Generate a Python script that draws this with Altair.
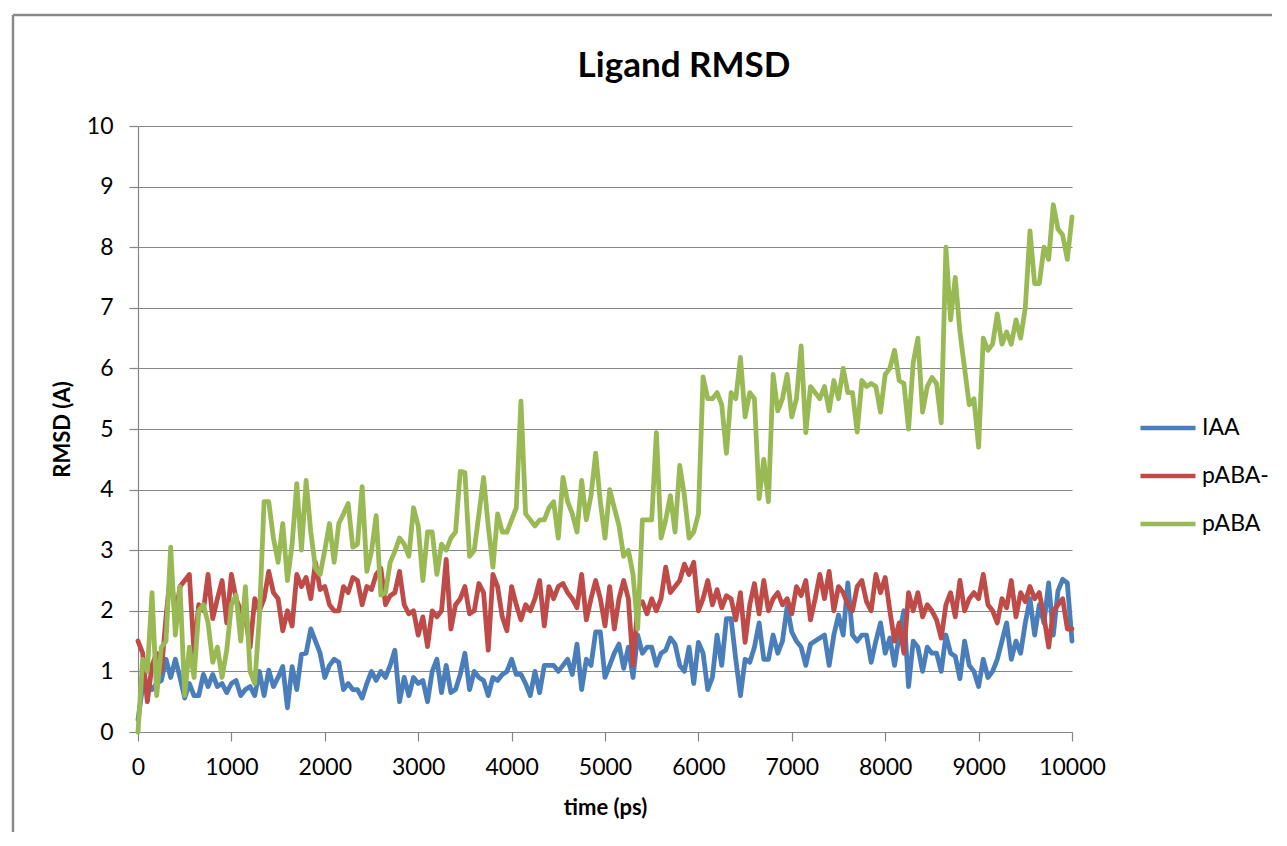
import altair as alt
import pandas as pd

# time grid (ps)
times = list(range(0, 10001, 50))

iaa = [
    0.2, 0.76, 0.8, 0.7, 0.8, 0.85, 1.2, 0.9, 1.2, 0.9,
    0.56, 0.8, 0.6, 0.6, 0.95, 0.75, 0.95, 0.75, 0.8, 0.65,
    0.8, 0.85, 0.6, 0.7, 0.75, 0.6, 1.0, 0.6, 1.02, 0.75,
    0.9, 1.08, 0.4, 1.08, 0.7, 1.28, 1.3, 1.7, 1.5, 1.3,
    0.9, 1.1, 1.2, 1.15, 0.7, 0.8, 0.7, 0.7, 0.56, 0.8,
    1.0, 0.85, 1.0, 0.9, 1.1, 1.35, 0.5, 0.9, 0.6, 0.9,
    0.8, 0.85, 0.5, 1.0, 1.2, 0.65, 1.1, 0.65, 0.7, 0.95,
    1.3, 0.7, 1.0, 0.9, 0.85, 0.6, 0.9, 0.85, 0.95, 1.0,
    1.2, 0.95, 0.95, 0.8, 0.6, 1.0, 0.65, 1.1, 1.1, 1.1,
    1.0, 1.1, 1.2, 0.95, 1.45, 0.7, 1.2, 1.1, 1.65, 1.65,
    0.9, 1.1, 1.3, 1.45, 1.05, 1.4, 0.9, 1.6, 1.3, 1.4,
    1.4, 1.1, 1.3, 1.35, 1.55, 1.45, 1.1, 1.0, 1.4, 0.8,
    1.48, 1.3, 0.7, 0.9, 1.6, 1.1, 1.87, 1.87, 1.2, 0.6,
    1.2, 1.15, 1.4, 1.8, 1.2, 1.2, 1.6, 1.3, 1.5, 2.07,
    1.65, 1.5, 1.4, 1.1, 1.45, 1.5, 1.55, 1.6, 1.1, 1.6,
    1.93, 1.6, 2.46, 1.6, 1.5, 1.6, 1.6, 1.15, 1.5, 1.8,
    1.3, 1.55, 1.1, 1.6, 2.0, 0.75, 1.5, 1.4, 1.0, 1.4,
    1.3, 1.3, 1.0, 1.6, 1.3, 1.25, 0.88, 1.5, 1.1, 1.0,
    0.75, 1.2, 0.9, 1.0, 1.2, 1.5, 1.8, 1.2, 1.5, 1.3,
    1.8, 2.2, 1.6, 2.1, 1.8, 2.46, 1.6, 2.33, 2.52, 2.46,
    1.5,
]

paba_minus = [
    1.5, 1.3, 0.5, 1.1, 1.3, 1.0, 1.9, 2.65, 1.9, 2.4,
    2.5, 2.6, 1.3, 2.1, 2.0, 2.6, 1.87, 2.2, 2.5, 1.8,
    2.6, 2.2, 2.0, 1.9, 1.4, 2.2, 2.0, 2.2, 2.65, 2.3,
    2.2, 1.67, 2.0, 1.75, 2.6, 2.4, 2.55, 2.2, 2.8, 2.35,
    2.4, 2.1, 2.0, 2.0, 2.4, 2.3, 2.55, 2.5, 2.1, 2.4,
    2.35, 2.6, 2.7, 2.1, 2.25, 2.3, 2.65, 2.1, 1.95, 2.0,
    1.6, 1.9, 1.41, 2.0, 1.9, 2.0, 2.85, 1.7, 2.1, 2.2,
    2.4, 1.95, 2.0, 2.45, 2.3, 1.35, 2.6, 2.4, 1.9, 1.67,
    2.4, 2.1, 1.85, 2.1, 2.0, 2.2, 2.5, 1.75, 2.4, 2.2,
    2.4, 2.45, 2.3, 2.2, 2.05, 2.6, 1.85, 2.2, 2.5, 2.2,
    1.75, 2.4, 1.7, 2.2, 2.5, 2.2, 1.1, 2.1, 2.15, 1.95,
    2.2, 2.0, 2.2, 2.72, 2.3, 2.4, 2.5, 2.77, 2.6, 2.8,
    2.0, 2.2, 2.5, 2.1, 2.35, 2.05, 2.25, 2.2, 1.85, 2.3,
    1.48, 2.1, 2.45, 1.95, 2.5, 2.0, 2.2, 2.3, 2.1, 2.2,
    1.95, 2.4, 2.25, 2.5, 1.85, 2.2, 2.6, 2.2, 2.65, 2.0,
    2.4, 2.3, 2.1, 2.0, 2.4, 2.5, 2.15, 2.0, 2.6, 2.3,
    2.55, 2.0, 1.5, 1.8, 1.3, 2.3, 2.0, 2.3, 1.9, 2.1,
    2.0, 1.85, 1.55, 2.1, 2.3, 1.9, 2.5, 2.0, 2.2, 2.3,
    2.2, 2.6, 2.1, 2.0, 1.8, 2.2, 2.05, 2.5, 1.9, 2.3,
    2.15, 2.4, 2.2, 2.3, 1.9, 1.4, 2.0, 2.1, 2.2, 1.7,
    1.7,
]

paba = [
    0.0, 1.2, 1.0, 2.3, 0.6, 1.4, 1.5, 3.05, 1.6, 2.4,
    0.6, 1.4, 0.9, 2.0, 2.1, 1.8, 1.15, 1.4, 0.9, 1.35,
    2.1, 2.26, 1.5, 2.4, 1.0, 0.8, 1.9, 3.8, 3.8, 3.2,
    2.8, 3.44, 2.5, 3.1, 4.1, 3.0, 4.15, 3.3, 2.7, 2.6,
    3.0, 3.44, 2.8, 3.44, 3.6, 3.77, 3.05, 3.1, 4.05, 2.65,
    2.98, 3.57, 2.26, 2.3, 2.8, 2.98, 3.2, 3.1, 2.9, 3.7,
    3.4, 2.5, 3.3, 3.3, 2.6, 3.1, 3.0, 3.2, 3.3, 4.3,
    4.28, 2.9, 3.0, 3.6, 4.2, 3.4, 2.72, 3.6, 3.3, 3.3,
    3.5, 3.7, 5.46, 3.6, 3.5, 3.4, 3.5, 3.5, 3.7, 3.8,
    3.2, 4.2, 3.8, 3.6, 3.3, 4.15, 3.5, 3.9, 4.6, 3.8,
    3.2, 4.0, 3.7, 3.4, 2.9, 3.0, 2.6, 1.7, 3.5, 3.5,
    3.5, 4.94, 3.2, 3.5, 3.9, 3.3, 4.4, 3.9, 3.2, 3.3,
    3.6, 5.86, 5.5, 5.5, 5.6, 5.4, 4.6, 5.6, 5.5, 6.18,
    5.2, 5.6, 5.5, 3.85, 4.5, 3.8, 5.9, 5.3, 5.5, 5.9,
    5.2, 5.5, 6.37, 4.94, 5.7, 5.6, 5.5, 5.7, 5.3, 5.8,
    5.5, 6.0, 5.6, 5.6, 4.95, 5.8, 5.7, 5.75, 5.7, 5.28,
    5.9, 6.0, 6.3, 5.8, 5.75, 5.0, 6.1, 6.5, 5.28, 5.7,
    5.85, 5.75, 5.1, 8.0, 6.8, 7.5, 6.6, 6.0, 5.4, 5.5,
    4.7, 6.5, 6.3, 6.4, 6.9, 6.4, 6.6, 6.4, 6.8, 6.5,
    7.0, 8.27, 7.4, 7.4, 8.0, 7.8, 8.7, 8.3, 8.2, 7.8,
    8.5,
]

series_names = ["IAA", "pABA-", "pABA"]
series_colors = ["#4A7EBB", "#BE4B48", "#98B954"]
x_ticks = list(range(0, 10001, 1000))
y_ticks = list(range(0, 11))
chart_title = "Ligand RMSD"

rows = []
for name, vals in zip(series_names, [iaa, paba_minus, paba]):
    for t, v in zip(times, vals):
        rows.append({"time": t, "rmsd": v, "series": name})
df = pd.DataFrame(rows)

FONT = "Lato"
GRID = "#868686"

x = alt.X(
    "time:Q",
    scale=alt.Scale(domain=[0, 10000], nice=False, zero=False),
    axis=alt.Axis(values=x_ticks, title="time (ps)", grid=False, format="d",
                  labelPadding=15, titlePadding=18, tickSize=9,
                  labelFlush=False, labelOverlap=False),
)
y = alt.Y(
    "rmsd:Q",
    scale=alt.Scale(domain=[0, 10], nice=False),
    axis=alt.Axis(values=y_ticks, title="RMSD (A)", grid=True, labelPadding=16,
                  titlePadding=12, tickSize=9, domain=True,
                  labelFlush=False, labelOverlap=False),
)
color = alt.Color(
    "series:N",
    scale=alt.Scale(domain=series_names, range=series_colors),
    legend=alt.Legend(
        title=None, orient="none", legendX=1000, legendY=278,
        symbolType="stroke", symbolSize=3025, symbolStrokeWidth=4.5,
        labelFontSize=23, labelFont=FONT, labelColor="#000000",
        rowPadding=0, clipHeight=48, labelOffset=4, padding=0,
    ),
)

layers = []
for name in series_names:
    layers.append(
        alt.Chart(df)
        .transform_filter(alt.datum.series == name)
        .mark_line(strokeWidth=4.8, strokeJoin="round", strokeCap="round")
        .encode(x=x, y=y, color=color)
    )

one_row = pd.DataFrame({"k": [0]})
frame_top = alt.Chart(one_row).mark_rule(color="#8a8a8a", strokeWidth=2.5).encode(
    x=alt.value(-125), x2=alt.value(1141), y=alt.value(-111)
)
frame_left = alt.Chart(one_row).mark_rule(color="#8a8a8a", strokeWidth=2.5).encode(
    x=alt.value(-125), y=alt.value(-111), y2=alt.value(712)
)
title_text = alt.Chart(one_row).mark_text(
    text=chart_title, font=FONT, fontSize=35, fontWeight="bold", color="#000000",
    align="center", baseline="alphabetic",
).encode(x=alt.value(546), y=alt.value(-49))

chart = (
    alt.layer(frame_top, frame_left, title_text, *layers)
    .properties(
        width=934,
        height=606,
        autosize=alt.AutoSizeParams(type="none"),
        padding={"left": 130, "top": 118, "right": 200, "bottom": 100},
        background="white",
    )
    .configure_view(stroke=None)
    .configure_axis(
        labelFont=FONT, labelFontSize=23, labelColor="#000000",
        titleFont=FONT, titleFontSize=22, titleFontWeight="bold", titleColor="#000000",
        gridColor=GRID, gridWidth=1.2, domainColor=GRID, domainWidth=1.2,
        tickColor=GRID, tickWidth=1.2,
    )
)

chart.save("out.html", embed_options={"renderer": "svg", "actions": False})
